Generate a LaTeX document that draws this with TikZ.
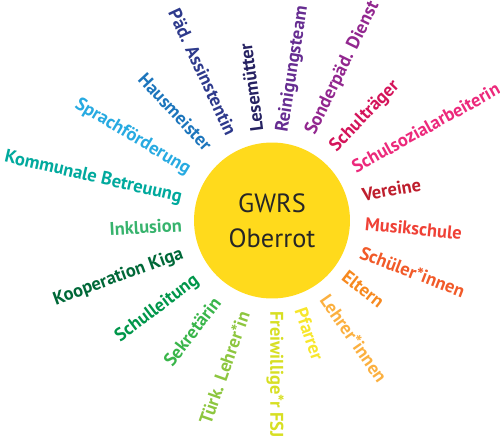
\documentclass[tikz,border=0pt]{standalone}
\usepackage{fontspec}
\setmainfont{PT Sans}
\usepackage{tikz}
\usetikzlibrary{calc}

\definecolor{sunyellow}{HTML}{FFDA1C}
\definecolor{cPaed}{HTML}{2E3A8C}
\definecolor{cLese}{HTML}{262262}
\definecolor{cRein}{HTML}{662D91}
\definecolor{cSond}{HTML}{92278F}
\definecolor{cTraeg}{HTML}{D4145A}
\definecolor{cSozial}{HTML}{EC297B}
\definecolor{cVerein}{HTML}{BE1E2D}
\definecolor{cMusik}{HTML}{EF4136}
\definecolor{cSchueler}{HTML}{F15A29}
\definecolor{cEltern}{HTML}{F7891F}
\definecolor{cLehrer}{HTML}{FBB040}
\definecolor{cPfarrer}{HTML}{F7E62B}
\definecolor{cFSJ}{HTML}{D7DF23}
\definecolor{cTuerk}{HTML}{8DC63F}
\definecolor{cSekr}{HTML}{39B54A}
\definecolor{cLeitung}{HTML}{00964A}
\definecolor{cKiga}{HTML}{006838}
\definecolor{cInkl}{HTML}{37B36D}
\definecolor{cKomm}{HTML}{00A99D}
\definecolor{cSprach}{HTML}{27AAE1}
\definecolor{cHaus}{HTML}{1C75BC}

\begin{document}
\begin{tikzpicture}[x=0.02cm, y=0.02cm,
    sun/.style={circle, fill=sunyellow, minimum size=3.12cm, inner sep=0pt,
      align=center, text=black!85, font=\fontsize{15}{20}\selectfont},
    partner/.style={inner sep=0pt, font=\fontsize{10.5}{12}\selectfont\bfseries}]
          \useasboundingbox (0,0) rectangle (500,441);

          %%    % Sonne
          \node[sun] (gwrs) at (272,220.5) {GWRS\\Oberrot};

          %%    % Partner rundherum
          \foreach \ang/\dist/\rot/\side/\col/\txt [count=\n] in {
              115/95/-65/east/cPaed/Päd. Assinstentin,
              99.6/90/97.5/west/cLese/Lesemütter,
              83/89/81/west/cRein/Reinigungsteam,
              66/94.5/64/west/cSond/Sonderpäd. Dienst,
              49.5/94/46/west/cTraeg/Schulträger,
              33/96.5/29/west/cSozial/Schulsozialarbeiterin,
              16/93.5/10/west/cVerein/Vereine,
              -2/93/-5.5/west/cMusik/Musikschule,
              -19.5/94/-21/west/cSchueler/Schüler*innen,
              -36.6/90/-38/west/cEltern/Eltern,
              -55.4/92/-55/west/cLehrer/Lehrer*innen,
              -72/92/-71/west/cPfarrer/Pfarrer,
              -88/90.5/-90/west/cFSJ/Freiwillige*r FSJ,
              -107/95/70.5/east/cTuerk/Türk. Lehrer*in,
              -125/96/52.5/east/cSekr/Sekretärin,
              -142/95/37/east/cLeitung/Schulleitung,
              -159.4/95/20/east/cKiga/Kooperation Kiga,
              -177/90/3/east/cInkl/Inklusion,
              166/93/-13/east/cKomm/Kommunale Betreuung,
              149/96.5/-31/east/cSprach/Sprachförderung,
              131/96/-47/east/cHaus/Hausmeister} {
            \node[partner, text=\col, rotate=\rot, anchor=\side] (p\n)
              at ($(gwrs.center)+(\ang:\dist)$) {\txt};
          }
\end{tikzpicture}
\end{document}
